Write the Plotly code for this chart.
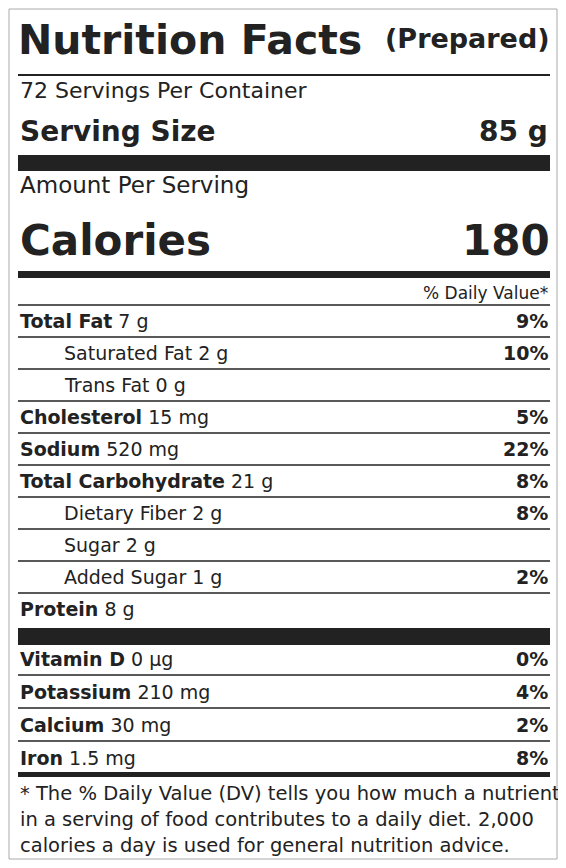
import plotly.graph_objects as go

# nutrient rows: name, amount, % daily value, indented?
names = ["Total Fat", "Saturated Fat", "Trans Fat", "Cholesterol", "Sodium",
         "Total Carbohydrate", "Dietary Fiber", "Sugar", "Added Sugar", "Protein"]
amounts = ["7 g", "2 g", "0 g", "15 mg", "520 mg", "21 g", "2 g", "2 g", "1 g", "8 g"]
dv = ["9%", "10%", "", "5%", "22%", "8%", "8%", "", "2%", ""]
indent = [False, True, True, False, False, False, True, True, True, False]

vit_names = ["Vitamin D", "Potassium", "Calcium", "Iron"]
vit_amounts = ["0 µg", "210 mg", "30 mg", "1.5 mg"]
vit_dv = ["0%", "4%", "2%", "8%"]

servings = "72 Servings Per Container"
serving_size = "85 g"
calories = "180"
footnote = ["* The % Daily Value (DV) tells you how much a nutrient",
            "in a serving of food contributes to a daily diet. 2,000",
            "calories a day is used for general nutrition advice."]

W, H = 566, 868
PAD = 8  # page body margin
L, R = 18, 550
INK = "#222222"
FONT = "DejaVu Sans, Verdana, sans-serif"

fig = go.Figure()
shapes = []
ann = []


def text(x, y, s, size, anchor="left", bold=False):
    ann.append(dict(x=x, y=y, text=f"<b>{s}</b>" if bold else s, showarrow=False,
                    xanchor=anchor, yanchor="middle", xshift=0,
                    font=dict(size=size, color=INK, family=FONT)))


def hline(y, w=1.5, x0=L):
    shapes.append(dict(type="line", x0=x0, x1=R, y0=y, y1=y,
                       line=dict(color=INK, width=w)))


def bar(y0, y1):
    shapes.append(dict(type="rect", x0=L, x1=R, y0=y0, y1=y1,
                       fillcolor=INK, line=dict(width=0)))


# outer border
shapes.append(dict(type="rect", x0=PAD + 1, x1=W - PAD - 1, y0=PAD + 1, y1=H - PAD - 1,
                   line=dict(color="#aaaaaa", width=1)))

text(L - 2, 40, "Nutrition Facts", 41, bold=True)
text(R + 2, 38, "(Prepared)", 27, "right", bold=True)
hline(75, 2)
text(L, 90, servings, 22)
text(L, 131, "Serving Size", 28, bold=True)
text(R, 131, serving_size, 28, "right", bold=True)
bar(155, 171)
text(L, 185, "Amount Per Serving", 23)
text(L, 240, "Calories", 42, bold=True)
text(R + 2, 240, calories, 42, "right", bold=True)
bar(271, 278)
text(R, 293, "% Daily Value*", 17, "right")
hline(305)

y = 321
step = 32
for i in range(len(names)):
    x = L + 44 if indent[i] else L
    label = f"{names[i]} {amounts[i]}" if indent[i] else f"<b>{names[i]}</b> {amounts[i]}"
    text(x, y + i * step, label, 19)
    if dv[i]:
        text(R, y + i * step, dv[i], 19, "right", bold=True)
    if i < len(names) - 1:
        hline(y + i * step + step / 2)

bar(628, 645)
y = 659
for i in range(len(vit_names)):
    text(L, y + i * (step + 1), f"<b>{vit_names[i]}</b> {vit_amounts[i]}", 19)
    text(R, y + i * (step + 1), vit_dv[i], 19, "right", bold=True)
    if i < len(vit_names) - 1:
        hline(y + i * (step + 1) + step / 2)

bar(772, 777)
for i, line in enumerate(footnote):
    text(L, 793 + i * 26, line, 19.5)

fig.update_layout(width=W - 2 * PAD, height=H - 2 * PAD, margin=dict(l=0, r=0, t=0, b=0),
                  plot_bgcolor="white", paper_bgcolor="white",
                  xaxis=dict(range=[PAD, W - PAD], visible=False, fixedrange=True),
                  yaxis=dict(range=[H - PAD, PAD], visible=False, fixedrange=True),
                  shapes=shapes, annotations=ann, showlegend=False)
fig.write_html("out.html")
